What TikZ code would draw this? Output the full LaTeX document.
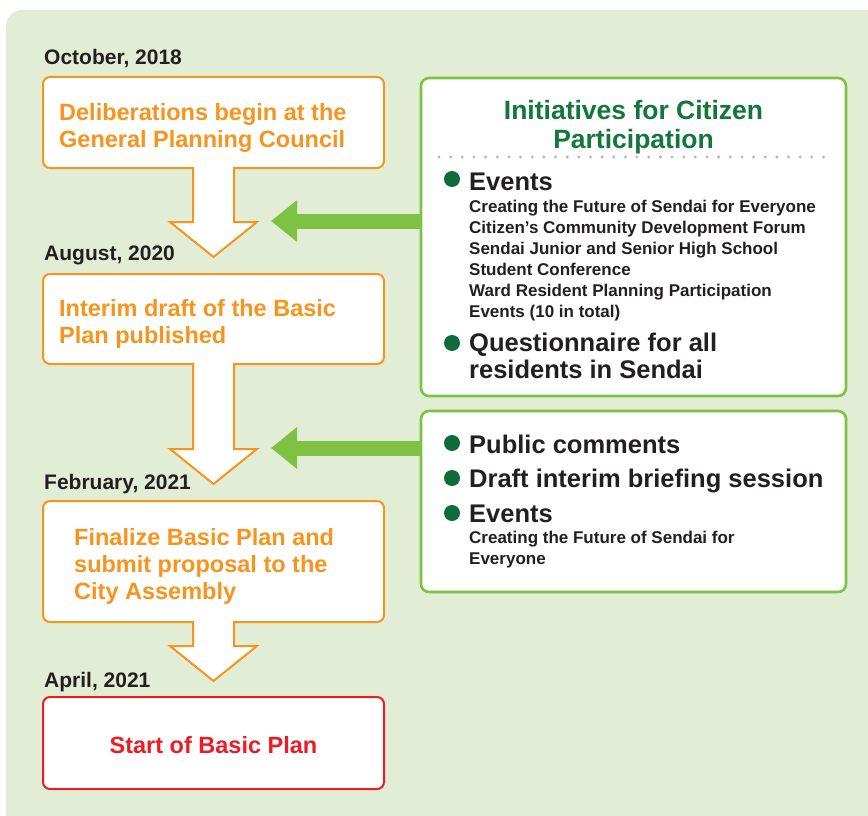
\documentclass[tikz,border=0pt]{standalone}
\usepackage{fontspec}
\setmainfont{Liberation Sans}
\usetikzlibrary{arrows.meta,calc}
\definecolor{bggreen}{HTML}{E2EDD5}
\definecolor{orng}{HTML}{F7941D}
\definecolor{redc}{HTML}{ED1C24}
\definecolor{lgreen}{HTML}{7DC242}
\definecolor{dgreen}{HTML}{0F6B3A}
\definecolor{titlegreen}{HTML}{13773D}
\definecolor{ink}{HTML}{231F20}
\newcommand{\blockarrow}[2]{%
  \fill[white] ($(#1.south)+(-20.5,-2)$) -- ($(#2)+(-20.5,-35)$) -- ($(#2)+(-43.5,-35)$) -- (#2)
     -- ($(#2)+(43.5,-35)$) -- ($(#2)+(20.5,-35)$) -- ($(#1.south)+(20.5,-2)$) -- cycle;
  \draw[orng, line width=2pt, line join=miter] ($(#1.south)+(-20.5,-1)$) -- ($(#2)+(-20.5,-35)$)
     -- ($(#2)+(-43.5,-35)$) -- (#2) -- ($(#2)+(43.5,-35)$) -- ($(#2)+(20.5,-35)$) -- ($(#1.south)+(20.5,-1)$);}
\begin{document}
\begin{tikzpicture}[x=1pt,y=-1pt,
  obox/.style={draw=orng, line width=2pt, fill=white, rounded corners=7pt, minimum width=341pt, inner sep=0pt, outer sep=0pt},
  rbox/.style={obox, draw=redc},
  gbox/.style={draw=lgreen, line width=2.6pt, fill=white, rounded corners=8pt, minimum width=425pt, inner sep=0pt, outer sep=0pt},
  garrow/.style={draw=lgreen, line width=15pt, -{Triangle[length=26pt,width=40pt]}},
  datetxt/.style={anchor=base west, text=ink, font=\fontsize{21}{25}\selectfont\bfseries, inner sep=0pt},
  otxt/.style={anchor=base west, align=left, text=orng, font=\fontsize{23.5}{27}\selectfont\bfseries, inner sep=0pt},
  titletxt/.style={anchor=base, align=center, text=titlegreen, font=\fontsize{26.5}{29}\selectfont\bfseries, inner sep=0pt},
  bigtxt/.style={anchor=base west, align=left, text=ink, font=\fontsize{25.5}{26.5}\selectfont\bfseries, inner sep=0pt},
  smalltxt/.style={anchor=base west, align=left, text=ink, font=\fontsize{17}{21}\selectfont\bfseries, inner sep=0pt},
  bul/.style={circle, fill=dgreen, minimum size=16pt, inner sep=0pt}]
\useasboundingbox (0,0) rectangle (868,816);
\clip (0,0) rectangle (868,816);
\fill[bggreen, rounded corners=16pt] (6,10) rectangle (900,850);

% date labels
\node[datetxt] (d1) at (44,65) {October, 2018};
\node[datetxt] (d2) at (44,260) {August, 2020};
\node[datetxt] (d3) at (44,489) {February, 2021};
\node[datetxt] (d4) at (44,687) {April, 2021};

% left boxes
\node[obox, minimum height=91pt] (b1) at (213.5,122.5) {};
\node[obox, minimum height=90pt] (b2) at (213.5,319) {};
\node[obox, minimum height=121pt] (b3) at (213.5,561.5) {};
\node[rbox, minimum height=92pt] (b4) at (213.5,743) {};

% (base anchor of a multi-line node = baseline of its last line)
\node[otxt] (t1) at (59,147) {Deliberations begin at the\\General Planning Council};
\node[otxt] (t2) at (59,343) {Interim draft of the Basic\\Plan published};
\node[otxt] (t3) at (74,599) {Finalize Basic Plan and\\submit proposal to the\\City Assembly};
\node[otxt, text=redc, anchor=base] (t4) at (213.5,753) {Start of Basic Plan};

% block arrows
\coordinate (a1) at (213.5,257);
\coordinate (a2) at (213.5,484);
\coordinate (a3) at (213.5,681);
\blockarrow{b1}{a1}
\blockarrow{b2}{a2}
\blockarrow{b3}{a3}

% right boxes
\node[gbox, minimum height=318pt] (g1) at (633.5,237) {};
\node[gbox, minimum height=181pt] (g2) at (633.5,501.5) {};

% green arrows
\coordinate (ga1) at (271,221);
\coordinate (ga2) at (271,448);
\draw[garrow] (g1.west |- ga1) -- (ga1);
\draw[garrow] (g2.west |- ga2) -- (ga2);

% title and divider
\node[titletxt] (title) at (633.5,148) {Initiatives for Citizen\\Participation};
\draw[black!28, line width=3.3pt, line cap=round, dash pattern=on 0pt off 11.65pt] (439,157) -- (829,157);

% box 1 content
\node[bul] (p1) at (452,179) {};
\node[bigtxt] (e1) at (469,190) {Events};
\node[smalltxt] (e1s) at (469,317) {Creating the Future of Sendai for Everyone\\Citizen’s Community Development Forum\\Sendai Junior and Senior High School\\Student Conference\\Ward Resident Planning Participation\\Events (10 in total)};
\node[bul] (p2) at (452,343) {};
\node[bigtxt] (q1) at (469,378) {Questionnaire for all\\residents in Sendai};

% box 2 content
\node[bul] (p3) at (452,443) {};
\node[bigtxt] (c1) at (469,453) {Public comments};
\node[bul] (p4) at (452,478) {};
\node[bigtxt] (c2) at (469,487) {Draft interim briefing session};
\node[bul] (p5) at (452,513) {};
\node[bigtxt] (c3) at (469,522) {Events};
\node[smalltxt] (c3s) at (469,564) {Creating the Future of Sendai for\\Everyone};
\end{tikzpicture}
\end{document}
